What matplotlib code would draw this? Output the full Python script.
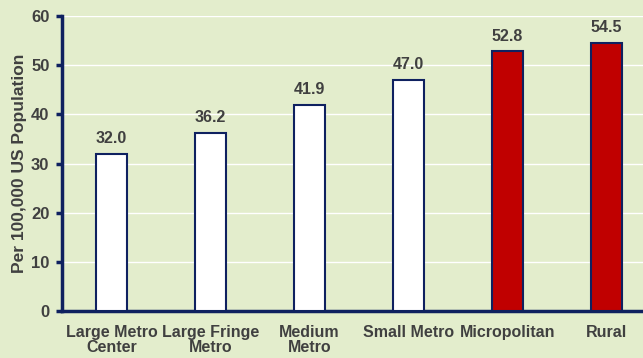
import matplotlib.pyplot as plt
import numpy as np

# Rates by urbanization level
categories = ["Large Metro\nCenter", "Large Fringe\nMetro", "Medium\nMetro",
              "Small Metro", "Micropolitan", "Rural"]
values = [32.0, 36.2, 41.9, 47.0, 52.8, 54.5]
fill_colors = ["white", "white", "white", "white", "#C00000", "#C00000"]

BG = "#E3EDCC"
NAVY = "#0F2160"
TEXT = "#404040"

plt.rcParams['font.family'] = ['Liberation Sans', 'DejaVu Sans']
plt.rcParams['font.weight'] = 'bold'

fig = plt.figure(figsize=(6.43, 3.58), dpi=100)
fig.patch.set_facecolor(BG)
ax = fig.add_axes([62 / 643, 47 / 358, 594 / 643, 295 / 358])
ax.set_facecolor(BG)

x = np.arange(len(categories))
bars = ax.bar(x, values, width=0.31, color=fill_colors, edgecolor=NAVY,
              linewidth=1.5, zorder=3)

for xi, v in zip(x, values):
    ax.text(xi, v + 1.6, f"{v:.1f}", ha='center', va='bottom',
            fontsize=11.5, fontweight='bold', color=TEXT)

ax.set_xlim(-0.5, 5.5)
ax.set_ylim(0, 60)
ax.set_yticks(range(0, 61, 10))
ax.set_xticks(x)
ax.set_xticklabels(categories, fontsize=11.5, fontweight='bold', color=TEXT,
                   linespacing=1.0)
ax.tick_params(axis='x', length=0, pad=10)
ax.tick_params(axis='y', direction='out', length=4, width=2.5, color=NAVY,
               labelsize=12, labelcolor=TEXT, pad=5)
ax.grid(axis='y', color='white', linewidth=1, zorder=0)

for side in ['top', 'right']:
    ax.spines[side].set_visible(False)
for side in ['left', 'bottom']:
    ax.spines[side].set_color(NAVY)
    ax.spines[side].set_linewidth(2.5)

ax.set_ylabel("Per 100,000 US Population", fontsize=12.5, fontweight='bold',
              color=TEXT, labelpad=3)

fig.savefig("out.png", dpi=100, facecolor=BG)
